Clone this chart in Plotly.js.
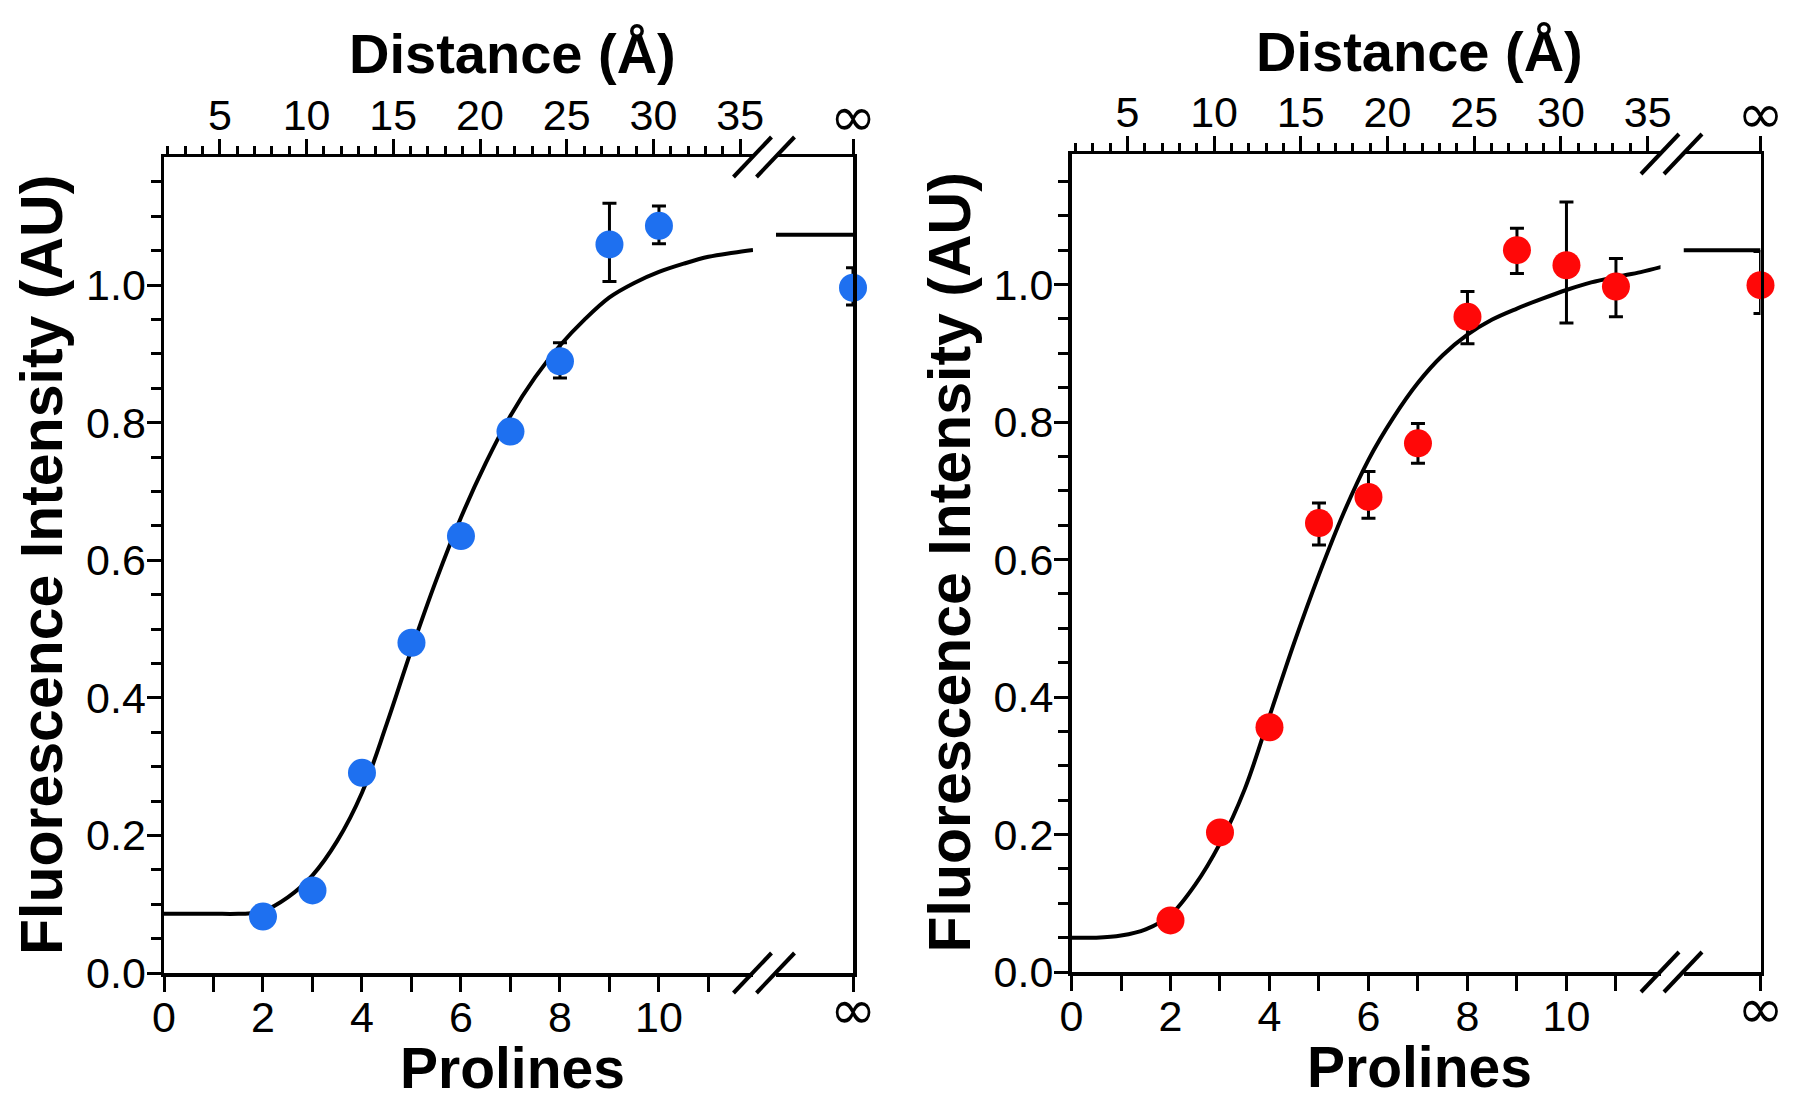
<!DOCTYPE html>
<html><head><meta charset="utf-8">
<script src="https://cdn.plot.ly/plotly-3.0.1.min.js"></script>
<style>html,body{margin:0;padding:0;background:#fff}</style>
</head><body><div id="chart" style="width:1800px;height:1100px"></div>
<script>
// ---------- data ----------
const prolines = [2, 3, 4, 5, 6, 7, 8, 9, 10];
const blueIntensity = [0.082, 0.120, 0.291, 0.480, 0.635, 0.787, 0.889, 1.059, 1.086];
const blueErrPlus  = [0, 0, 0, 0, 0, 0, 0.027, 0.060, 0.029];
const blueErrMinus = [0, 0, 0, 0, 0, 0, 0.024, 0.054, 0.026];
const blueInfIntensity = [0.996];
const blueInfErrPlus = [0.029];
const blueInfErrMinus = [0.025];
const blueFitX = [0, 0.5, 1.0, 1.5, 1.75, 2.0, 2.5, 3.0, 3.5, 4.0, 4.5, 5.0, 5.5, 6.0, 6.5, 7.0, 7.5, 8.0, 8.5, 9.0, 9.5, 10.0, 10.5, 11.0, 11.5, 11.9];
const blueFitY = [0.086, 0.086, 0.086, 0.086, 0.087, 0.090, 0.110, 0.142, 0.192, 0.262, 0.362, 0.470, 0.571, 0.662, 0.741, 0.810, 0.866, 0.912, 0.950, 0.982, 1.003, 1.019, 1.031, 1.041, 1.047, 1.051];
const blueFitInfY = [1.073, 1.073];

const redProlines = [2, 3, 4, 5, 6, 7, 8, 9, 10, 11];
const redIntensity = [0.075, 0.203, 0.356, 0.653, 0.691, 0.769, 0.953, 1.050, 1.028, 0.997];
const redErrPlus  = [0, 0, 0, 0.029, 0.037, 0.029, 0.037, 0.032, 0.092, 0.041];
const redErrMinus = [0, 0, 0, 0.032, 0.031, 0.029, 0.039, 0.034, 0.084, 0.044];
const redInfIntensity = [0.999];
const redInfErrPlus = [0.049];
const redInfErrMinus = [0.041];
const redFitX = [0, 0.5, 1.0, 1.5, 2.0, 2.5, 3.0, 3.5, 4.0, 4.5, 5.0, 5.5, 6.0, 6.5, 7.0, 7.5, 8.0, 8.5, 9.0, 9.5, 10.0, 10.5, 11.0, 11.5, 11.94];
const redFitY = [0.050, 0.050, 0.053, 0.062, 0.083, 0.127, 0.187, 0.266, 0.372, 0.479, 0.578, 0.668, 0.745, 0.806, 0.857, 0.897, 0.927, 0.949, 0.965, 0.979, 0.992, 1.003, 1.011, 1.018, 1.026];
const redFitInfY = [1.050, 1.050];

// position of "∞" on the broken-off axis segment
const infX = [1];
const infSegX = [0, 1];
const infTickText = ['∞'];

const bottomTitle = 'Prolines';
const topTitle = 'Distance (Å)';
const yTitle = 'Fluorescence Intensity (AU)';

// ---------- layout helpers ----------
const W = 1800, H = 1100;
const FONT = 'Liberation Sans, Arial, Helvetica, sans-serif';
const px = v => v / W;
const py = v => 1 - v / H;
const BLUE = 'rgb(30,112,240)';
const RED = 'rgb(255,8,8)';

const common = {
  showgrid: false, zeroline: false, linecolor: 'black', linewidth: 3.5,
  tickcolor: 'black', tickwidth: 3, ticks: 'outside', fixedrange: true,
  tickfont: {family: FONT, size: 43, color: 'black'}
};
const infFont = {family: 'DejaVu Sans, sans-serif', size: 56, color: 'black'};

const layout = {
  width: W, height: H, margin: {l: 0, r: 0, t: 0, b: 0},
  paper_bgcolor: 'white', plot_bgcolor: 'rgba(0,0,0,0)',
  showlegend: false, shapes: [], annotations: []
};
const data = [];

function panel(k, x0, yb, yt, yPerUnit) {
  const n = 4 * k;
  const xMain = n === 0 ? 'x' : 'x' + (n + 1);
  const xTop = 'x' + (n + 2), xInf = 'x' + (n + 3), xInfTop = 'x' + (n + 4);
  const yMain = k === 0 ? 'y' : 'y' + (2 * k + 1);
  const yInf = 'y' + (2 * k + 2);
  const key = id => id.replace('x', 'xaxis').replace('y', 'yaxis');
  const mainEnd = x0 + 589, infStart = x0 + 612, infEnd = x0 + 689;
  const yTop = (yb - yt) / yPerUnit;
  const ydom = [py(yb), py(yt)];

  layout[key(xMain)] = Object.assign({}, common, {
    domain: [px(x0), px(mainEnd)], range: [0, 11.9], anchor: yMain, showline: true,
    tickmode: 'linear', tick0: 0, dtick: 2, ticklen: 15, ticklabelstandoff: -11,
    minor: {tick0: 0, dtick: 1, ticks: 'outside', ticklen: 15, tickwidth: 3, tickcolor: 'black', showgrid: false}
  });
  layout[key(xTop)] = Object.assign({}, common, {
    overlaying: xMain, side: 'top', anchor: yMain, range: [1.78, 35.74], showline: true,
    tickmode: 'linear', tick0: 5, dtick: 5, ticklen: 15, ticklabelstandoff: -9,
    minor: {tick0: 0, dtick: 1, ticks: 'outside', ticklen: 8, tickwidth: 3, tickcolor: 'black', showgrid: false}
  });
  layout[key(xInf)] = Object.assign({}, common, {
    domain: [px(infStart), px(infEnd)], range: [0, 1], anchor: yInf, showline: true,
    tickmode: 'array', tickvals: infX, ticktext: infTickText, ticklen: 15, tickfont: infFont,
    ticklabelstandoff: -30
  });
  layout[key(xInfTop)] = Object.assign({}, common, {
    overlaying: xInf, side: 'top', anchor: yInf, range: [0, 1], showline: true,
    tickmode: 'array', tickvals: infX, ticktext: infTickText, ticklen: 15, tickfont: infFont,
    ticklabelstandoff: -20
  });
  layout[key(yMain)] = Object.assign({}, common, {
    domain: ydom, range: [0, yTop], anchor: xMain, showline: true,
    tickmode: 'linear', tick0: 0, dtick: 0.2, tickformat: '.1f', ticklen: 14, ticklabelstandoff: -8,
    minor: {tick0: 0, dtick: 0.05, ticks: 'outside', ticklen: 10, tickwidth: 3, tickcolor: 'black', showgrid: false}
  });
  layout[key(yInf)] = Object.assign({}, common, {
    domain: ydom, range: [0, yTop], anchor: xInf, side: 'right', showline: true,
    ticks: '', showticklabels: false
  });

  // empty traces so the top (distance) axes get a subplot and are drawn
  data.push({x: [], y: [], xaxis: xTop, yaxis: yMain, mode: 'markers', hoverinfo: 'skip'});
  data.push({x: [], y: [], xaxis: xInfTop, yaxis: yInf, mode: 'markers', hoverinfo: 'skip'});

  // axis-break marks
  [yt, yb].forEach(cy => {
    [x0 + 588.5, x0 + 611.5].forEach(cx => {
      layout.shapes.push({type: 'line', xref: 'paper', yref: 'paper',
        x0: px(cx - 19), y0: py(cy + 20), x1: px(cx + 19), y1: py(cy - 20),
        line: {color: 'black', width: 4}});
    });
  });

  const cx = x0 + 348;
  const tf = {family: FONT, size: 56, color: 'black', weight: 'bold'};
  layout.annotations.push(
    {xref: 'paper', yref: 'paper', x: px(cx), y: py(yt - 103), text: '<b>' + topTitle + '</b>',
     showarrow: false, xanchor: 'center', yanchor: 'middle', font: tf},
    {xref: 'paper', yref: 'paper', x: px(cx), y: py(yb + 95), text: '<b>' + bottomTitle + '</b>',
     showarrow: false, xanchor: 'center', yanchor: 'middle', font: Object.assign({}, tf, {size: 57})},
    {xref: 'paper', yref: 'paper', x: px(x0 - 122), y: py((yb + yt) / 2), text: '<b>' + yTitle + '</b>',
     textangle: -90, showarrow: false, xanchor: 'center', yanchor: 'middle',
     font: Object.assign({}, tf, {size: 59})}
  );
  return {xMain, xInf, yMain, yInf};
}

const L = panel(0, 164, 973, 157, 688);
const R = panel(1, 1071.5, 972, 154, 687.5);

function errs(p, m) {
  return {type: 'data', symmetric: false, array: p, arrayminus: m,
          color: 'black', thickness: 3, width: 7};
}
const fitLine = {color: 'black', width: 4, shape: 'spline', smoothing: 1};
const marker = c => ({color: c, size: 28, line: {width: 0}});

data.push(
  {x: blueFitX, y: blueFitY, xaxis: L.xMain, yaxis: L.yMain, mode: 'lines', line: fitLine, hoverinfo: 'skip'},
  {x: prolines, y: blueIntensity, xaxis: L.xMain, yaxis: L.yMain, mode: 'markers',
   marker: marker(BLUE), error_y: errs(blueErrPlus, blueErrMinus), cliponaxis: false},
  {x: infSegX, y: blueFitInfY, xaxis: L.xInf, yaxis: L.yInf, mode: 'lines', line: fitLine, hoverinfo: 'skip'},
  {x: infX, y: blueInfIntensity, xaxis: L.xInf, yaxis: L.yInf, mode: 'markers',
   marker: marker(BLUE), error_y: errs(blueInfErrPlus, blueInfErrMinus), cliponaxis: false},

  {x: redFitX, y: redFitY, xaxis: R.xMain, yaxis: R.yMain, mode: 'lines', line: fitLine, hoverinfo: 'skip'},
  {x: redProlines, y: redIntensity, xaxis: R.xMain, yaxis: R.yMain, mode: 'markers',
   marker: marker(RED), error_y: errs(redErrPlus, redErrMinus), cliponaxis: false},
  {x: infSegX, y: redFitInfY, xaxis: R.xInf, yaxis: R.yInf, mode: 'lines', line: fitLine, hoverinfo: 'skip'},
  {x: infX, y: redInfIntensity, xaxis: R.xInf, yaxis: R.yInf, mode: 'markers',
   marker: marker(RED), error_y: errs(redInfErrPlus, redInfErrMinus), cliponaxis: false}
);

Plotly.newPlot('chart', data, layout, {staticPlot: true, displayModeBar: false});
</script>
</body></html>
